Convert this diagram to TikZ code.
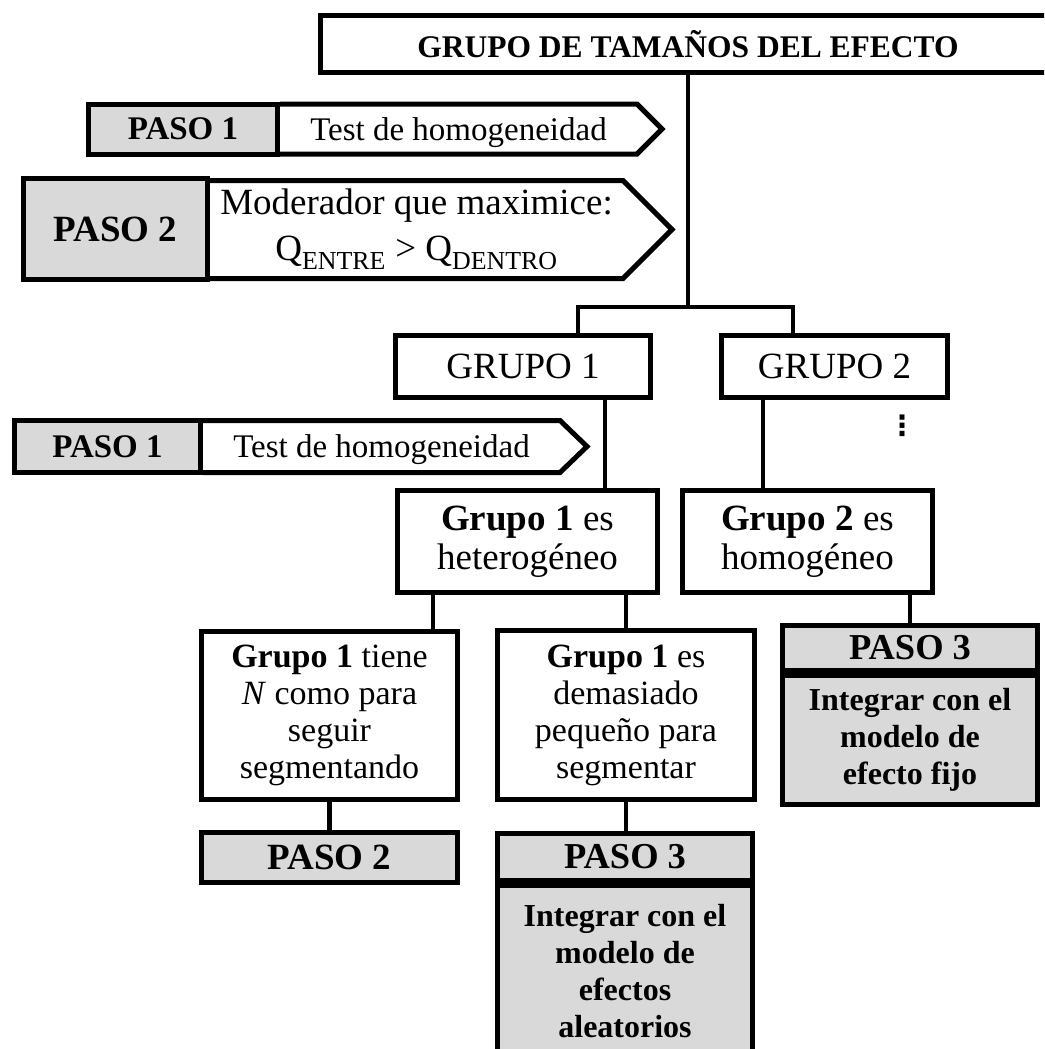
\documentclass[tikz,border=0pt]{standalone}
\usepackage{fontspec}
\setmainfont{Liberation Serif}
\newfontfamily\simbolos{DejaVu Sans}
\usepackage{tikz}

\definecolor{grisclaro}{RGB}{217,217,217}
\tikzset{
  caja/.style={draw, line width=5pt, fill=white, align=center, inner sep=0pt, line join=miter},
  gris/.style={caja, fill=grisclaro},
  cuerpo/.style={inner sep=0pt, outer sep=0pt, align=center},
  flecha/.style={draw, line width=5pt, line join=miter},
  enlace/.style={line width=4.5pt},
}

\begin{document}
\begin{tikzpicture}[x=1pt, y=-1pt]
\useasboundingbox (0,0) rectangle (1044,1049);
\clip (0,0) rectangle (1044,1049);
%top box
\node[caja, minimum width=736, minimum height=57, font=\fontsize{31.5}{36}\selectfont\bfseries] (titulo) at (688,44) {GRUPO DE TAMAÑOS DEL EFECTO};
%paso 1 and paso 2 with arrows
\node[cuerpo, text depth=0pt, minimum width=357, minimum height=50, font=\fontsize{33}{38}\selectfont] (test1a) at (458.5,129) {Test de homogeneidad};
\draw[flecha] (test1a.south west) -- (test1a.south east) -- ([xshift=25]test1a.east) -- (test1a.north east) -- (test1a.north west);
\node[gris, minimum width=189, minimum height=50, font=\fontsize{33}{38}\selectfont\bfseries] (paso1a) at (183,129) {PASO 1};
\node[cuerpo, minimum width=413, minimum height=98, font=\fontsize{37}{46}\selectfont] (moder) at (416.5,229.5) {Moderador que maximice:\\Q\textsubscript{ENTRE} > Q\textsubscript{DENTRO}};
\draw[flecha] (moder.south west) -- (moder.south east) -- ([xshift=49]moder.east) -- (moder.north east) -- (moder.north west);
\node[gris, minimum width=184, minimum height=101, font=\fontsize{37}{42}\selectfont\bfseries] (paso2a) at (115.5,229) {PASO 2};
%grupos
\node[caja, minimum width=255, minimum height=62, font=\fontsize{37}{42}\selectfont] (grupo1) at (523,366.5) {GRUPO 1};
\node[caja, minimum width=226, minimum height=62, font=\fontsize{37}{42}\selectfont] (grupo2) at (834.5,366.5) {GRUPO 2};
\coordinate (barI) at (688,307);
\coordinate (barL) at (578,307);
\coordinate (barR) at (793,307);
\draw[enlace] (titulo.south) -- (barI);
\draw[enlace, line join=miter] (grupo1.north -| barL) -- (barL) -- (barR) -- (grupo2.north -| barR);
%second paso 1
\node[cuerpo, text depth=0pt, minimum width=357, minimum height=52, font=\fontsize{33}{38}\selectfont] (test1b) at (381.5,446.5) {Test de homogeneidad};
\draw[flecha] (test1b.south west) -- (test1b.south east) -- ([xshift=27]test1b.east) -- (test1b.north east) -- (test1b.north west);
\node[gris, minimum width=186, minimum height=52, font=\fontsize{33}{38}\selectfont\bfseries] (paso1b) at (107.5,446.5) {PASO 1};
\node[font=\fontsize{28}{32}\simbolos\bfseries] (puntos) at (902,426) {⋮};
%heterogeneo / homogeneo
\node[caja, minimum width=260, minimum height=102, font=\fontsize{37}{39}\selectfont] (hetero) at (527.5,541.5) {\textbf{Grupo 1} es\\heterogéneo};
\node[caja, minimum width=250, minimum height=102, font=\fontsize{37}{39}\selectfont] (homog) at (807.5,541.5) {\textbf{Grupo 2} es\\homogéneo};
\draw[enlace] ([xshift=82]grupo1.south) -- ([xshift=82]grupo1.south |- hetero.north);
\draw[enlace] ([xshift=-71.5]grupo2.south) -- ([xshift=-71.5]grupo2.south |- homog.north);
%segmentar or not
\node[caja, minimum width=256, minimum height=168, font=\fontsize{34}{37}\selectfont] (tiene) at (329.5,715.5) {\textbf{Grupo 1} tiene\\\textit{N} como para\\seguir\\segmentando};
\node[caja, minimum width=257, minimum height=169, font=\fontsize{34}{37}\selectfont] (demasiado) at (626,715) {\textbf{Grupo 1} es\\demasiado\\pequeño para\\segmentar};
\draw[enlace] ([xshift=-94.5]hetero.south) -- ([xshift=-94.5]hetero.south |- tiene.north);
\draw[enlace] (hetero.south -| demasiado.north) -- (demasiado.north);
%paso 2 and paso 3
\node[gris, minimum width=256, minimum height=50, font=\fontsize{37}{42}\selectfont\bfseries] (paso2b) at (329.5,857.5) {PASO 2};
\draw[enlace] (tiene) -- (paso2b);
\node[gris, minimum width=255, minimum height=172, font=\fontsize{32}{37}\selectfont\bfseries] (aleat) at (625,971.5) {Integrar con el\\modelo de\\efectos\\aleatorios};
\node[gris, minimum width=255, minimum height=47, font=\fontsize{36.5}{41}\selectfont\bfseries] (paso3a) at (625,857) {PASO 3};
\draw[enlace] (demasiado.south) -- (demasiado.south |- paso3a.north);
\node[gris, minimum width=255, minimum height=129, font=\fontsize{32}{37}\selectfont\bfseries] (fijo) at (910,740) {Integrar con el\\modelo de\\efecto fijo};
\node[gris, minimum width=255, minimum height=45, font=\fontsize{36.5}{41}\selectfont\bfseries] (paso3b) at (910,648) {PASO 3};
\draw[enlace] (homog.south -| paso3b.north) -- (paso3b.north);
\end{tikzpicture}
\end{document}
